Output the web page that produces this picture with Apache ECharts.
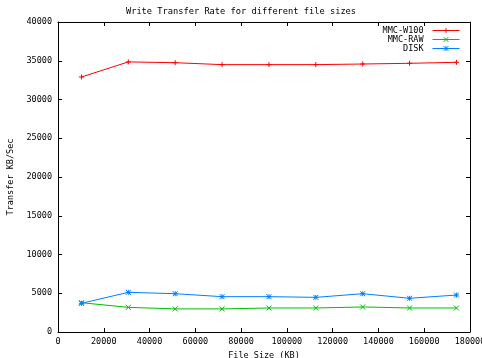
<!DOCTYPE html>
<html><head><meta charset="utf-8">
<script src="https://cdn.jsdelivr.net/npm/echarts@6/dist/echarts.min.js"></script>
<style>html,body{margin:0;padding:0;background:#fff}#c{width:482px;height:358px}</style>
</head><body><div id="c"></div>
<script>
const fileSizes = [10240, 30720, 51200, 71680, 92160, 112640, 133120, 153600, 174080];
const mmcW100 = [32900, 34850, 34750, 34500, 34500, 34500, 34580, 34670, 34800];
const mmcRaw = [3780, 3180, 2980, 2980, 3100, 3100, 3230, 3100, 3100];
const disk = [3700, 5120, 4940, 4560, 4560, 4470, 4940, 4350, 4770];
const seriesNames = ['MMC-W100', 'MMC-RAW', 'DISK'];
const titleText = 'Write Transfer Rate for different file sizes';
const xName = 'File Size (KB)';
const yName = 'Transfer KB/Sec';

const FONT = 'DejaVu Sans Mono';
const colors = ['#ff0000', '#00c000', '#0080ff'];
const symbols = [
  'path://M0,-1L0,1M-1,0L1,0',
  'path://M-1,-1L1,1M-1,1L1,-1',
  'path://M-1,-1L1,1M-1,1L1,-1M0,-1L0,1M-1,0L1,0'
];
const values = [mmcW100, mmcRaw, disk];

const chart = echarts.init(document.getElementById('c'), null, {renderer: 'canvas'});
const tick = () => ({show: true, inside: true, length: 4, lineStyle: {color: '#000', width: 1}});
const line = () => ({show: true, onZero: false, lineStyle: {color: '#000', width: 1}});
const plain = v => String(v);
chart.setOption({
  animation: false,
  backgroundColor: '#fff',
  textStyle: {fontFamily: FONT, color: '#000'},
  title: {text: titleText, left: 'center', top: 2,
    textStyle: {fontFamily: FONT, fontSize: 8.7, fontWeight: 'normal', color: '#000'}},
  grid: {left: 58, right: 12, top: 22, bottom: 26, show: false,
    containLabel: false, outerBoundsMode: 'none'},
  legend: {
    orient: 'vertical', right: 22, top: 26, align: 'right', itemGap: 0, padding: 0,
    itemWidth: 27, itemHeight: 6,
    lineStyle: {width: 1},
    itemStyle: {borderWidth: 1},
    textStyle: {fontFamily: FONT, fontSize: 8.5, color: '#000', lineHeight: 7, padding: [0, 4, 0, 0]},
    data: seriesNames
  },
  xAxis: [{
    type: 'value', min: 0, max: 180000, interval: 20000,
    name: xName, nameLocation: 'middle', nameGap: 17,
    nameTextStyle: {fontFamily: FONT, fontSize: 8.5, color: '#000'},
    axisLine: line(), splitLine: {show: false},
    axisTick: tick(),
    axisLabel: {fontFamily: FONT, fontSize: 8.5, color: '#000', margin: 5, formatter: plain,
      showMaxLabel: true, showMinLabel: true, hideOverlap: false}
  }, {
    type: 'value', position: 'top', min: 0, max: 180000, interval: 20000,
    axisLine: line(), splitLine: {show: false}, axisLabel: {show: false},
    axisTick: tick()
  }],
  yAxis: [{
    type: 'value', min: 0, max: 40000, interval: 5000,
    name: yName, nameLocation: 'middle', nameGap: 42, nameRotate: 90,
    nameTextStyle: {fontFamily: FONT, fontSize: 8.5, color: '#000'},
    axisLine: line(), splitLine: {show: false},
    axisTick: tick(),
    axisLabel: {fontFamily: FONT, fontSize: 8.5, color: '#000', margin: 6, formatter: plain}
  }, {
    type: 'value', position: 'right', min: 0, max: 40000, interval: 5000,
    axisLine: line(), splitLine: {show: false}, axisLabel: {show: false},
    axisTick: tick()
  }],
  series: seriesNames.map((n, i) => ({
    name: n, type: 'line',
    data: fileSizes.map((x, j) => [x, values[i][j]]),
    symbol: symbols[i], symbolSize: 5, showSymbol: true,
    lineStyle: {color: colors[i], width: 1},
    itemStyle: {color: colors[i], borderColor: colors[i], borderWidth: 1},
    emphasis: {disabled: true}
  }))
});
</script></body></html>
